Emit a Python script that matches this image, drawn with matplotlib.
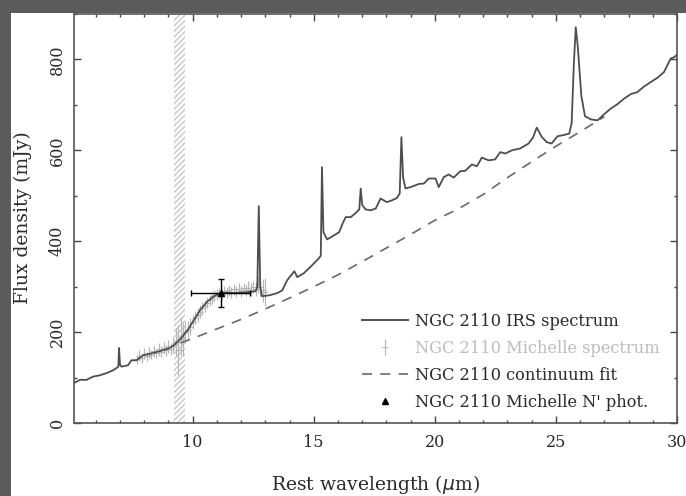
import matplotlib
matplotlib.use('Agg')
import matplotlib.pyplot as plt
from matplotlib.patches import Rectangle
from matplotlib.lines import Line2D

plt.rcParams['font.family'] = ['DejaVu Serif']

# IRS spectrum (rest wavelength in micron, flux in mJy)
irs_wave = [5.1, 5.35, 5.62, 5.88, 6.17, 6.45, 6.71, 6.86, 6.93, 6.96, 7.0, 7.06,
            7.33, 7.47, 7.68, 7.95, 8.36, 8.77, 9.0, 9.2, 9.5, 9.8, 10.0, 10.3,
            10.6, 10.85, 11.1, 11.4, 11.7, 12.0, 12.3, 12.6, 12.67, 12.73, 12.79,
            12.86, 13.17, 13.5, 13.7, 13.9, 14.2, 14.32, 14.6, 14.93, 15.22, 15.29,
            15.34, 15.4, 15.55, 15.84, 16.05, 16.2, 16.32, 16.53, 16.73, 16.88,
            16.94, 17.0, 17.14, 17.35, 17.56, 17.76, 18.02, 18.23, 18.43, 18.55,
            18.62, 18.69, 18.79, 19.05, 19.34, 19.55, 19.75, 20.03, 20.16, 20.37,
            20.57, 20.78, 21.05, 21.26, 21.53, 21.74, 21.94, 22.22, 22.49, 22.70,
            22.91, 23.18, 23.52, 23.87, 24.05, 24.21, 24.41, 24.62, 24.82, 25.07,
            25.35, 25.55, 25.65, 25.74, 25.82, 25.9, 26.05, 26.2, 26.45, 26.72,
            27.0, 27.27, 27.55, 27.82, 28.1, 28.36, 28.63, 28.91, 29.2, 29.46,
            29.74, 29.88, 30.0]
irs_flux = [88, 95, 95, 102, 105, 110, 116, 121, 124, 165, 128, 124,
            127, 138, 138, 149, 154, 160, 164, 170, 185, 205, 222, 248,
            267, 278, 285, 287, 286, 287, 288, 290, 300, 477, 300,
            279, 281, 286, 292, 314, 334, 321, 330, 347, 363, 368,
            563, 420, 404, 413, 420, 440, 453, 453, 462, 470,
            516, 480, 470, 468, 472, 494, 486, 490, 495, 505,
            629, 540, 516, 520, 526, 527, 538, 538, 519, 541,
            547, 540, 554, 555, 569, 565, 584, 578, 580, 596,
            593, 600, 604, 615, 628, 650, 630, 618, 615, 631,
            634, 637, 660, 790, 871, 830, 720, 675, 668, 666,
            680, 692, 702, 714, 724, 728, 740, 750, 760, 772,
            802, 805, 810]

# continuum fit
cont_wave = [9.5, 10, 11, 12, 13, 14, 15, 16, 17, 18, 19, 20, 21, 22, 23, 24,
             25, 26, 27]
cont_flux = [176, 186, 207, 228, 251, 275, 300, 326, 355, 385, 415, 446, 472,
             503, 540, 575, 609, 641, 674]

# Michelle spectrum
mich_wave = [7.7, 7.8, 7.9, 8.0, 8.1, 8.2, 8.3, 8.4, 8.5, 8.6, 8.7, 8.8, 8.9,
             9.0, 9.1, 9.2, 9.3, 9.4, 9.5, 9.6, 9.7, 9.8, 9.9, 10.0, 10.1,
             10.2, 10.3, 10.4, 10.5, 10.6, 10.7, 10.8, 10.9, 11.0, 11.1, 11.2,
             11.3, 11.4, 11.5, 11.6, 11.7, 11.8, 11.9, 12.0, 12.1, 12.2, 12.3,
             12.4, 12.5, 12.6, 12.7, 12.8, 12.9, 13.0]
mich_flux = [140, 148, 142, 152, 147, 155, 150, 158, 153, 162, 157, 165, 160,
             168, 163, 172, 178, 160, 190, 185, 200, 205, 212, 222, 232,
             238, 245, 252, 258, 265, 270, 274, 280, 283, 286, 282,
             290, 287, 292, 288, 294, 289, 295, 290, 296, 292, 298,
             293, 299, 295, 305, 300, 292, 288]
mich_err = [10, 12, 10, 12, 10, 12, 10, 12, 10, 14, 12, 14, 12,
            14, 14, 18, 30, 55, 40, 35, 25, 20, 18, 16, 15,
            15, 14, 14, 13, 13, 12, 12, 12, 12, 12, 12,
            12, 12, 12, 12, 12, 12, 12, 12, 12, 12, 14,
            14, 14, 16, 18, 20, 25, 30]

# Michelle N' photometry
phot_wave = [11.15]
phot_flux = [286]
phot_xerr = [1.2]
phot_yerr = [30]

fig = plt.figure(figsize=(6.86, 4.96), dpi=100)
fig.patch.set_facecolor('white')
# dark slide border (top and left)
fig.patches.append(Rectangle((0, 1 - 13 / 496), 1, 13 / 496, transform=fig.transFigure,
                             facecolor='#5b5b5b', edgecolor='none', zorder=-1))
fig.patches.append(Rectangle((0, 0), 11 / 686, 1, transform=fig.transFigure,
                             facecolor='#5b5b5b', edgecolor='none', zorder=-1))

ax = fig.add_axes([74 / 686, 1 - 423 / 496, 603 / 686, 409 / 496])

# atmospheric ozone band
ax.axvspan(9.22, 9.67, facecolor='none', edgecolor='#c8c8c8', hatch='//////',
           linewidth=0, zorder=1)

ax.errorbar(mich_wave, mich_flux, yerr=mich_err, fmt='+', color='#b4b4b4',
            ms=4, elinewidth=0.8, mew=0.8, zorder=2)
ax.plot(cont_wave, cont_flux, color='#6a6a6a', lw=1.2, dashes=(6, 5), zorder=3)
ax.plot(irs_wave, irs_flux, color='#4e4e4e', lw=1.3, zorder=4)
ax.errorbar(phot_wave, phot_flux, xerr=phot_xerr, yerr=phot_yerr, fmt='^',
            color='black', ms=4.5, elinewidth=1.0, capsize=2.5, zorder=5)

ax.set_xlim(5.1, 30)
ax.set_ylim(0, 900)
ax.set_xticks([10, 15, 20, 25, 30])
ax.set_xticks(range(6, 31), minor=True)
ax.set_yticks([0, 200, 400, 600, 800])
ax.set_yticks(range(0, 901, 100), minor=True)
ax.tick_params(which='both', direction='in', top=True, right=True,
               color='#444444', width=1.0, labelsize=11.5, labelcolor='#2a2a2a')
ax.tick_params(which='major', length=5)
ax.tick_params(which='minor', length=2.5)
ax.tick_params(axis='x', pad=8)
ax.tick_params(axis='y', pad=6)
for lab in ax.get_yticklabels():
    lab.set_rotation(90)
    lab.set_va('center')
for sp in ax.spines.values():
    sp.set_color('#555555')
    sp.set_linewidth(1.2)

fig.text(23 / 686, 1 - 218 / 496, 'Flux density (mJy)', rotation=90,
         ha='center', va='center', fontsize=13.5, color='#2a2a2a')
fig.text(375 / 686, 1 - 484 / 496, r'Rest wavelength ($\mu$m)',
         ha='center', va='center', fontsize=13.5, color='#2a2a2a')

# legend
h_irs = Line2D([], [], color='#4e4e4e', lw=1.4)
h_mich = ax.errorbar([], [], yerr=[], fmt='+', color='#b4b4b4', ms=4,
                     elinewidth=0.8, mew=0.8)
h_cont = Line2D([], [], color='#6a6a6a', lw=1.2, dashes=(6, 5))
h_phot = Line2D([], [], color='black', marker='^', ms=4.5, ls='none')
leg = ax.legend([h_irs, h_mich, h_cont, h_phot],
                ['NGC 2110 IRS spectrum', 'NGC 2110 Michelle spectrum',
                 'NGC 2110 continuum fit', "NGC 2110 Michelle N' phot."],
                loc='lower left', bbox_to_anchor=((362 - 74) / 603, 0.03),
                frameon=False, fontsize=11.7, handlelength=2.8, handletextpad=0.45,
                labelspacing=0.62, borderpad=0, borderaxespad=0)
colors = ['#2a2a2a', '#bdbdbd', '#2a2a2a', '#2a2a2a']
for t, c in zip(leg.get_texts(), colors):
    t.set_color(c)

fig.savefig('out.png', dpi=100)
